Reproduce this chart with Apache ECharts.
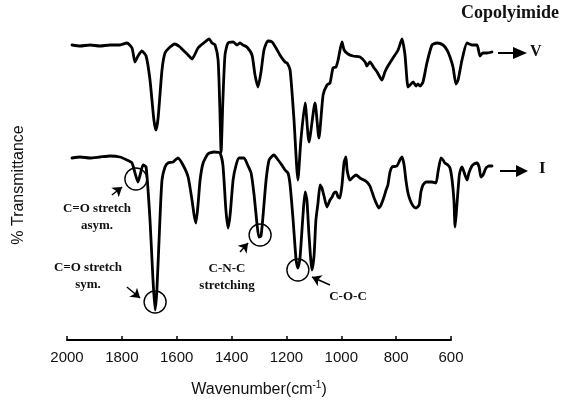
<!DOCTYPE html>
<html>
<head>
<meta charset="utf-8">
<script src="https://cdn.jsdelivr.net/npm/echarts@6/dist/echarts.min.js"></script>
<style>
  html, body { margin: 0; padding: 0; background: #fff; }
  #chart { width: 574px; height: 403px; }
</style>
</head>
<body>
<div id="chart"></div>
<script>
// wavenumber ticks of the printed axis
const axisTicks = [2000, 1800, 1600, 1400, 1200, 1000, 800, 600];

// copolyimide V (upper trace), transmittance in arbitrary units
const vWave = [2000, 1973, 1940, 1907, 1873, 1840, 1817, 1800, 1790, 1780, 1767, 1753, 1740, 1727, 1720, 1713, 1700, 1690, 1673, 1657,
  1640, 1630, 1613, 1600, 1580, 1557, 1543, 1533, 1523, 1513, 1507, 1503, 1497, 1490, 1480, 1463, 1450, 1440, 1430, 1417,
  1400, 1390, 1380, 1370, 1360, 1347, 1333, 1320, 1307, 1290, 1283, 1273, 1260, 1247, 1237, 1223, 1210, 1190, 1177, 1163,
  1150, 1140, 1130, 1120, 1113, 1100, 1093, 1080, 1063, 1040, 1023, 1017, 1007, 993, 983, 967, 957, 947, 930, 913,
  900, 890, 880, 873, 863, 853, 847, 840, 830, 817, 800, 783, 763, 750, 740, 730, 720, 713, 700, 683,
  667, 650, 640, 630, 617, 600];
const vTrans = [295, 294, 295, 294, 295, 295, 297, 292, 278, 284, 289, 284, 260, 220, 210, 222, 270, 287, 293, 296,
  293, 290, 285, 281, 292, 298, 301, 297, 295, 280, 230, 188, 240, 285, 297, 298, 295, 297, 295, 293,
  285, 265, 253, 268, 290, 299, 298, 292, 285, 278, 277, 270, 220, 160, 200, 237, 198, 237, 202, 245,
  255, 257, 272, 273, 280, 298, 290, 286, 284, 283, 278, 274, 278, 272, 268, 260, 268, 274, 282, 290,
  301, 285, 253, 255, 258, 254, 256, 254, 258, 277, 295, 297, 295, 290, 283, 273, 256, 260, 280, 297,
  295, 295, 284, 287, 287, 288];

// copolyimide I (lower trace)
const iWave = [2000, 1973, 1940, 1907, 1873, 1840, 1817, 1800, 1790, 1780, 1773, 1763, 1753, 1740, 1730, 1723, 1717, 1707, 1700, 1690,
  1680, 1663, 1647, 1630, 1613, 1600, 1593, 1587, 1580, 1573, 1563, 1547, 1527, 1507, 1497, 1487, 1480, 1473, 1463, 1453,
  1443, 1427, 1413, 1403, 1393, 1383, 1377, 1370, 1363, 1353, 1343, 1327, 1313, 1303, 1290, 1280, 1273, 1263, 1253, 1247,
  1240, 1230, 1223, 1217, 1210, 1200, 1193, 1187, 1180, 1173, 1167, 1160, 1150, 1140, 1133, 1127, 1120, 1113, 1107, 1100,
  1093, 1087, 1083, 1077, 1073, 1063, 1053, 1040, 1027, 1017, 1007, 993, 983, 977, 970, 960, 953, 947, 940, 933,
  917, 907, 900, 893, 887, 880, 873, 863, 853, 843, 837, 830, 820, 800, 787, 780, 770, 763, 757, 747,
  740, 733, 727, 723, 717, 710, 707, 700, 690, 683, 677, 667, 660, 650, 643, 637, 630, 620, 610, 600];
const iTrans = [182, 183, 182, 183, 184, 183, 180, 177, 167, 158, 165, 175, 173, 120, 60, 30, 50, 120, 160, 173,
  177, 178, 182, 175, 163, 140, 125, 117, 135, 160, 177, 186, 188, 187, 175, 130, 112, 125, 160, 175,
  182, 182, 174, 167, 145, 115, 103, 104, 125, 160, 180, 185, 180, 176, 170, 167, 155, 120, 80, 72,
  82, 125, 148, 140, 105, 70, 85, 120, 137, 155, 152, 144, 133, 140, 143, 147, 148, 143, 142, 155,
  178, 183, 170, 162, 160, 163, 165, 162, 160, 158, 154, 142, 135, 132, 135, 143, 150, 155, 168, 173,
  174, 180, 183, 175, 160, 147, 140, 134, 132, 135, 148, 155, 158, 158, 157, 168, 182, 180, 177, 175,
  172, 160, 140, 113, 135, 162, 168, 173, 165, 160, 167, 174, 176, 177, 173, 163, 165, 172, 174, 174];

// circled bands on trace I: [wavenumber, transmittance]
const bandCircles = [[1787, 161], [1723, 38], [1373, 105], [1247, 70]];
// pointer arrows: [[from], [to]]
const bandArrows = [
  [[1867, 145], [1833, 153]],
  [[1817, 53], [1773, 42]],
  [[1440, 88], [1413, 97]],
  [[1140, 55], [1200, 63]]
];

function pairs(xs, ys) {
  return xs.map((x, k) => [x, ys[k]]);
}

const chart = echarts.init(document.getElementById('chart'));
const serif = '"Liberation Serif", "DejaVu Serif", serif';
const sans = '"Liberation Sans", Arial, sans-serif';

const traceStyle = { color: '#000', width: 2.8, join: 'round', cap: 'round' };

chart.setOption({
  animation: false,
  backgroundColor: '#fff',
  grid: [
    { left: 67, right: 123, top: 30, bottom: 61 },
    { left: 72, right: 82, top: 30, bottom: 63 }
  ],
  xAxis: [
    {
      gridIndex: 0,
      type: 'value',
      inverse: true,
      min: 600,
      max: 2000,
      interval: 200,
      splitLine: { show: false },
      axisLine: { lineStyle: { color: '#000', width: 2 } },
      axisTick: { inside: true, length: 4, lineStyle: { color: '#000', width: 1.5 } },
      axisLabel: {
        color: '#111', fontSize: 15, fontFamily: sans, margin: 10,
        formatter: (v) => (axisTicks.includes(v) ? String(v) : '')
      },
      name: '{a|Wavenumber(cm}{s|-1}{a|)}',
      nameLocation: 'middle',
      nameGap: 40,
      nameTextStyle: {
        rich: {
          a: { fontSize: 16, fontFamily: sans, color: '#111' },
          s: { fontSize: 10, fontFamily: sans, color: '#111', verticalAlign: 'top', padding: [0, 0, 10, 0] }
        }
      }
    },
    {
      gridIndex: 1,
      type: 'value',
      inverse: true,
      min: 600,
      max: 2000,
      show: false
    }
  ],
  yAxis: [
    {
      gridIndex: 0,
      type: 'value',
      min: 0,
      max: 100,
      axisLine: { show: false },
      axisTick: { show: false },
      axisLabel: { show: false },
      splitLine: { show: false },
      name: '% Transmittance',
      nameLocation: 'middle',
      nameGap: 40,
      nameTextStyle: { fontSize: 16, fontFamily: sans, color: '#111' }
    },
    {
      gridIndex: 1,
      type: 'value',
      min: 0,
      max: 310,
      show: false
    }
  ],
  series: [
    {
      name: 'V',
      type: 'line',
      xAxisIndex: 1,
      yAxisIndex: 1,
      data: pairs(vWave, vTrans),
      symbol: 'none',
      smooth: 0.2,
      lineStyle: traceStyle
    },
    {
      name: 'I',
      type: 'line',
      xAxisIndex: 1,
      yAxisIndex: 1,
      data: pairs(iWave, iTrans),
      symbol: 'none',
      smooth: 0.2,
      lineStyle: traceStyle,
      markPoint: {
        silent: true,
        symbol: 'circle',
        symbolSize: 22,
        itemStyle: { color: 'rgba(0,0,0,0)', borderColor: '#000', borderWidth: 1.4 },
        label: { show: false },
        data: bandCircles.map((c) => ({ coord: c }))
      },
      markLine: {
        silent: true,
        symbol: ['none', 'arrow'],
        symbolSize: 9,
        label: { show: false },
        lineStyle: { color: '#000', width: 1.4, type: 'solid' },
        data: bandArrows.map((a) => [{ coord: a[0] }, { coord: a[1] }])
      }
    }
  ],
  graphic: [
    { type: 'text', left: 461, top: 4, style: { text: 'Copolyimide', font: 'bold 18px ' + serif, fill: '#111' } },
    // V marker
    { type: 'line', shape: { x1: 498, y1: 53, x2: 515, y2: 53 }, style: { stroke: '#000', lineWidth: 2 } },
    { type: 'polygon', shape: { points: [[513, 47], [527, 53], [513, 59]] }, style: { fill: '#000' } },
    { type: 'text', left: 530, top: 44, style: { text: 'V', font: 'bold 16px ' + serif, fill: '#111' } },
    // I marker
    { type: 'line', shape: { x1: 500, y1: 171, x2: 519, y2: 171 }, style: { stroke: '#000', lineWidth: 2 } },
    { type: 'polygon', shape: { points: [[516, 165], [528, 171], [516, 177]] }, style: { fill: '#000' } },
    { type: 'text', left: 539, top: 160, style: { text: 'I', font: 'bold 17px ' + serif, fill: '#111' } },
    // band labels
    { type: 'text', x: 97, y: 217, style: { text: 'C=O stretch\nasym.', font: 'bold 13px ' + serif, fill: '#111', align: 'center', verticalAlign: 'middle', lineHeight: 17 } },
    { type: 'text', x: 88, y: 276, style: { text: 'C=O stretch\nsym.', font: 'bold 13px ' + serif, fill: '#111', align: 'center', verticalAlign: 'middle', lineHeight: 17 } },
    { type: 'text', x: 227, y: 277, style: { text: 'C-N-C\nstretching', font: 'bold 13px ' + serif, fill: '#111', align: 'center', verticalAlign: 'middle', lineHeight: 17 } },
    { type: 'text', x: 348, y: 297, style: { text: 'C-O-C', font: 'bold 13px ' + serif, fill: '#111', align: 'center', verticalAlign: 'middle' } }
  ]
});
</script>
</body>
</html>
